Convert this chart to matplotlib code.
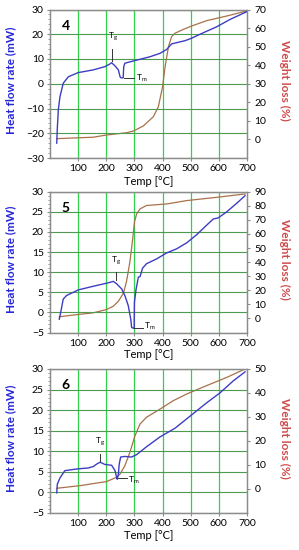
import matplotlib
matplotlib.use("Agg")
import matplotlib.pyplot as plt
from matplotlib.ticker import MultipleLocator

plt.rcParams['font.family'] = ['Lato', 'DejaVu Sans']

# ---------------- data ----------------
# Panel 4
t4_hf = [24, 26, 29.5, 35.5, 47, 65, 100, 154, 195, 213, 219, 231, 243, 249, 252, 260, 262, 266, 296, 355, 391, 415, 432, 450, 480, 503, 533, 592, 640, 699]
hf4 = [-24, -18, -10.6, -5.2, 0.2, 2.8, 4.5, 5.6, 6.9, 8.0, 8.5, 7.2, 5.6, 2.8, 2.4, 2.4, 6.9, 8.3, 9.2, 10.9, 12.3, 13.9, 16.1, 16.6, 17.4, 18.4, 20.0, 23.0, 26.0, 29.1]
t4_w = [24, 36, 154, 201, 272, 296, 331, 367, 385, 400, 409, 421, 432, 444, 474, 503, 557, 628, 699]
w4 = [0.4, 0.5, 1.2, 2.4, 3.6, 4.5, 7.2, 12.2, 17.6, 28.4, 39.2, 50.0, 55.3, 57.2, 59.3, 61.1, 64.0, 66.5, 69.2]

# Panel 5
t5_hf = [33, 38, 47, 59, 101, 154, 201, 225, 237, 255, 266, 278, 287, 290, 299, 300, 306, 314, 320, 329, 343, 379, 415, 450, 486, 521, 557, 580, 598, 628, 663, 693]
hf5 = [-1.7, 0.0, 3.3, 4.2, 5.6, 6.5, 7.25, 7.7, 7.1, 5.8, 4.2, 1.7, -1.7, -3.75, -4.0, 2.5, 5.8, 8.75, 8.9, 11.0, 12.1, 13.3, 14.8, 15.8, 17.3, 19.3, 21.7, 23.2, 23.5, 25.0, 27.1, 29.0]
t5_w = [33, 101, 154, 201, 225, 243, 261, 272, 284, 294, 300, 308, 320, 343, 415, 486, 592, 693]
w5 = [1.2, 2.8, 4.0, 6.3, 8.7, 12.2, 18.0, 26.3, 40.3, 56.7, 68.4, 74.3, 77.8, 80.2, 81.3, 83.7, 86.0, 88.4]

# Panel 6
t6_hf = [24, 26, 36, 53, 95, 136, 154, 166, 178, 195, 219, 231, 237, 239, 243, 246, 251, 266, 290, 308, 343, 391, 444, 497, 557, 604, 651, 693]
hf6 = [-0.1, 2.0, 3.6, 5.3, 5.7, 5.95, 6.3, 6.9, 7.35, 6.8, 6.6, 5.3, 3.6, 3.2, 4.5, 6.9, 8.6, 8.75, 8.6, 9.2, 11.1, 13.5, 15.6, 18.5, 21.8, 24.2, 27.1, 29.3]
t6_w = [24, 107, 201, 237, 249, 266, 284, 302, 320, 343, 391, 438, 486, 557, 628, 693]
w6 = [0.3, 1.4, 3.1, 4.9, 6.25, 9.7, 15.3, 22.2, 27.1, 29.9, 33.3, 36.8, 39.6, 43.1, 46.5, 50.0]

x_ticks = [100, 200, 300, 400, 500, 600, 700]
panel_names = ["4", "5", "6"]

BLUE = '#3d3dc4'
BROWN = '#a8714a'
VGRID = '#2fd24a'
HGRID = '#4e9a4e'
FRAME = '#8c8c8c'

W, H = 299, 550
fig = plt.figure(figsize=(W / 100, H / 100), dpi=100)

panels = [
    dict(name=panel_names[0], th=t4_hf, hf=hf4, tw=t4_w, w=w4,
         box=(50, 247, 9.5, 158), ylim=(-30, 30), ystep=10, rlim=(-10, 70), rticks=range(0, 71, 10),
         tg=(219, 9.2, 14.2, 225, 16.5), tm=((262, 300), 2.4, 304, 2.4)),
    dict(name=panel_names[1], th=t5_hf, hf=hf5, tw=t5_w, w=w5,
         box=(50, 247, 191.7, 332.5), ylim=(-5, 30), ystep=5, rlim=(-10, 90), rticks=range(0, 91, 10),
         tg=(234, 8.0, 10.0, 234, 11.3), tm=((298, 330), -3.9, 334, -3.5)),
    dict(name=panel_names[2], th=t6_hf, hf=hf6, tw=t6_w, w=w6,
         box=(50, 247, 369, 513), ylim=(-5, 30), ystep=5, rlim=(-10, 50), rticks=range(0, 51, 10),
         tg=(178, 7.6, 9.4, 178, 10.7), tm=((243, 272), 3.4, 276, 3.0)),
]

fs = 7.5
for p in panels:
    l, r, t, b = p['box']
    ax = fig.add_axes([l / W, (H - b) / H, (r - l) / W, (b - t) / H])
    ax2 = ax.twinx()
    ax.set_zorder(ax2.get_zorder() + 1)
    ax.patch.set_visible(False)

    ax.set_xlim(0, 700)
    ax.set_ylim(*p['ylim'])
    ax.yaxis.set_major_locator(MultipleLocator(p['ystep']))
    ax.yaxis.set_minor_locator(MultipleLocator(p['ystep'] / 5))
    ax.set_xticks(x_ticks)
    ax2.set_ylim(*p['rlim'])
    ax2.set_yticks(list(p['rticks']))

    # grid
    for xv in x_ticks[:-1]:
        ax2.axvline(xv, color=VGRID, lw=0.9, zorder=0)
    ax.yaxis.grid(True, color=HGRID, lw=0.8)
    ax.set_axisbelow(True)

    ax2.plot(p['tw'], p['w'], color=BROWN, lw=0.9, zorder=2)
    ax.plot(p['th'], p['hf'], color=BLUE, lw=1.0, zorder=3)

    # annotations
    tgx, ty0, ty1, tgtx, tgty = p['tg']
    ax.plot([tgx, tgx], [ty0, ty1], color='#333333', lw=0.7, zorder=4)
    ax.text(tgtx, tgty, r'T$_\mathregular{g}$', fontsize=6, ha='center', va='bottom', zorder=5)
    (mx0, mx1), my, mtx, mty = p['tm']
    ax.plot([mx0, mx1], [my, my], color='#333333', lw=0.7, zorder=4)
    ax.text(mtx, mty, r'T$_\mathregular{m}$', fontsize=6, ha='left', va='center', zorder=5)

    ax.text(0.06, 0.93, p['name'], transform=ax.transAxes, fontsize=10, fontweight='bold',
            ha='left', va='top', zorder=6)

    for a in (ax, ax2):
        for s in a.spines.values():
            s.set_color(FRAME)
            s.set_linewidth(0.9)
    ax.tick_params(axis='both', which='major', labelsize=fs, length=2.5, color=FRAME, pad=2)
    ax.tick_params(axis='y', which='minor', length=1.5, color=FRAME)
    ax2.tick_params(axis='y', labelsize=fs, length=2.5, color=FRAME, pad=3)

    ax.set_xlabel('Temp [°C]', fontsize=8)
    ax.xaxis.set_label_coords(0.5, -0.12)
    ax.set_ylabel('Heat flow rate (mW)', fontsize=8.5, color='#2626d9', fontweight='bold')
    ax.yaxis.set_label_coords(-0.20, 0.52)
    ax2.set_ylabel('Weight loss (%)', fontsize=8.5, color='#d04a4a', rotation=-90, fontweight='bold')
    ax2.yaxis.set_label_coords(1.19, 0.52)
    ax2.yaxis.label.set_va('center')
    ax.yaxis.label.set_va('center')

fig.savefig('out.png', dpi=100)
